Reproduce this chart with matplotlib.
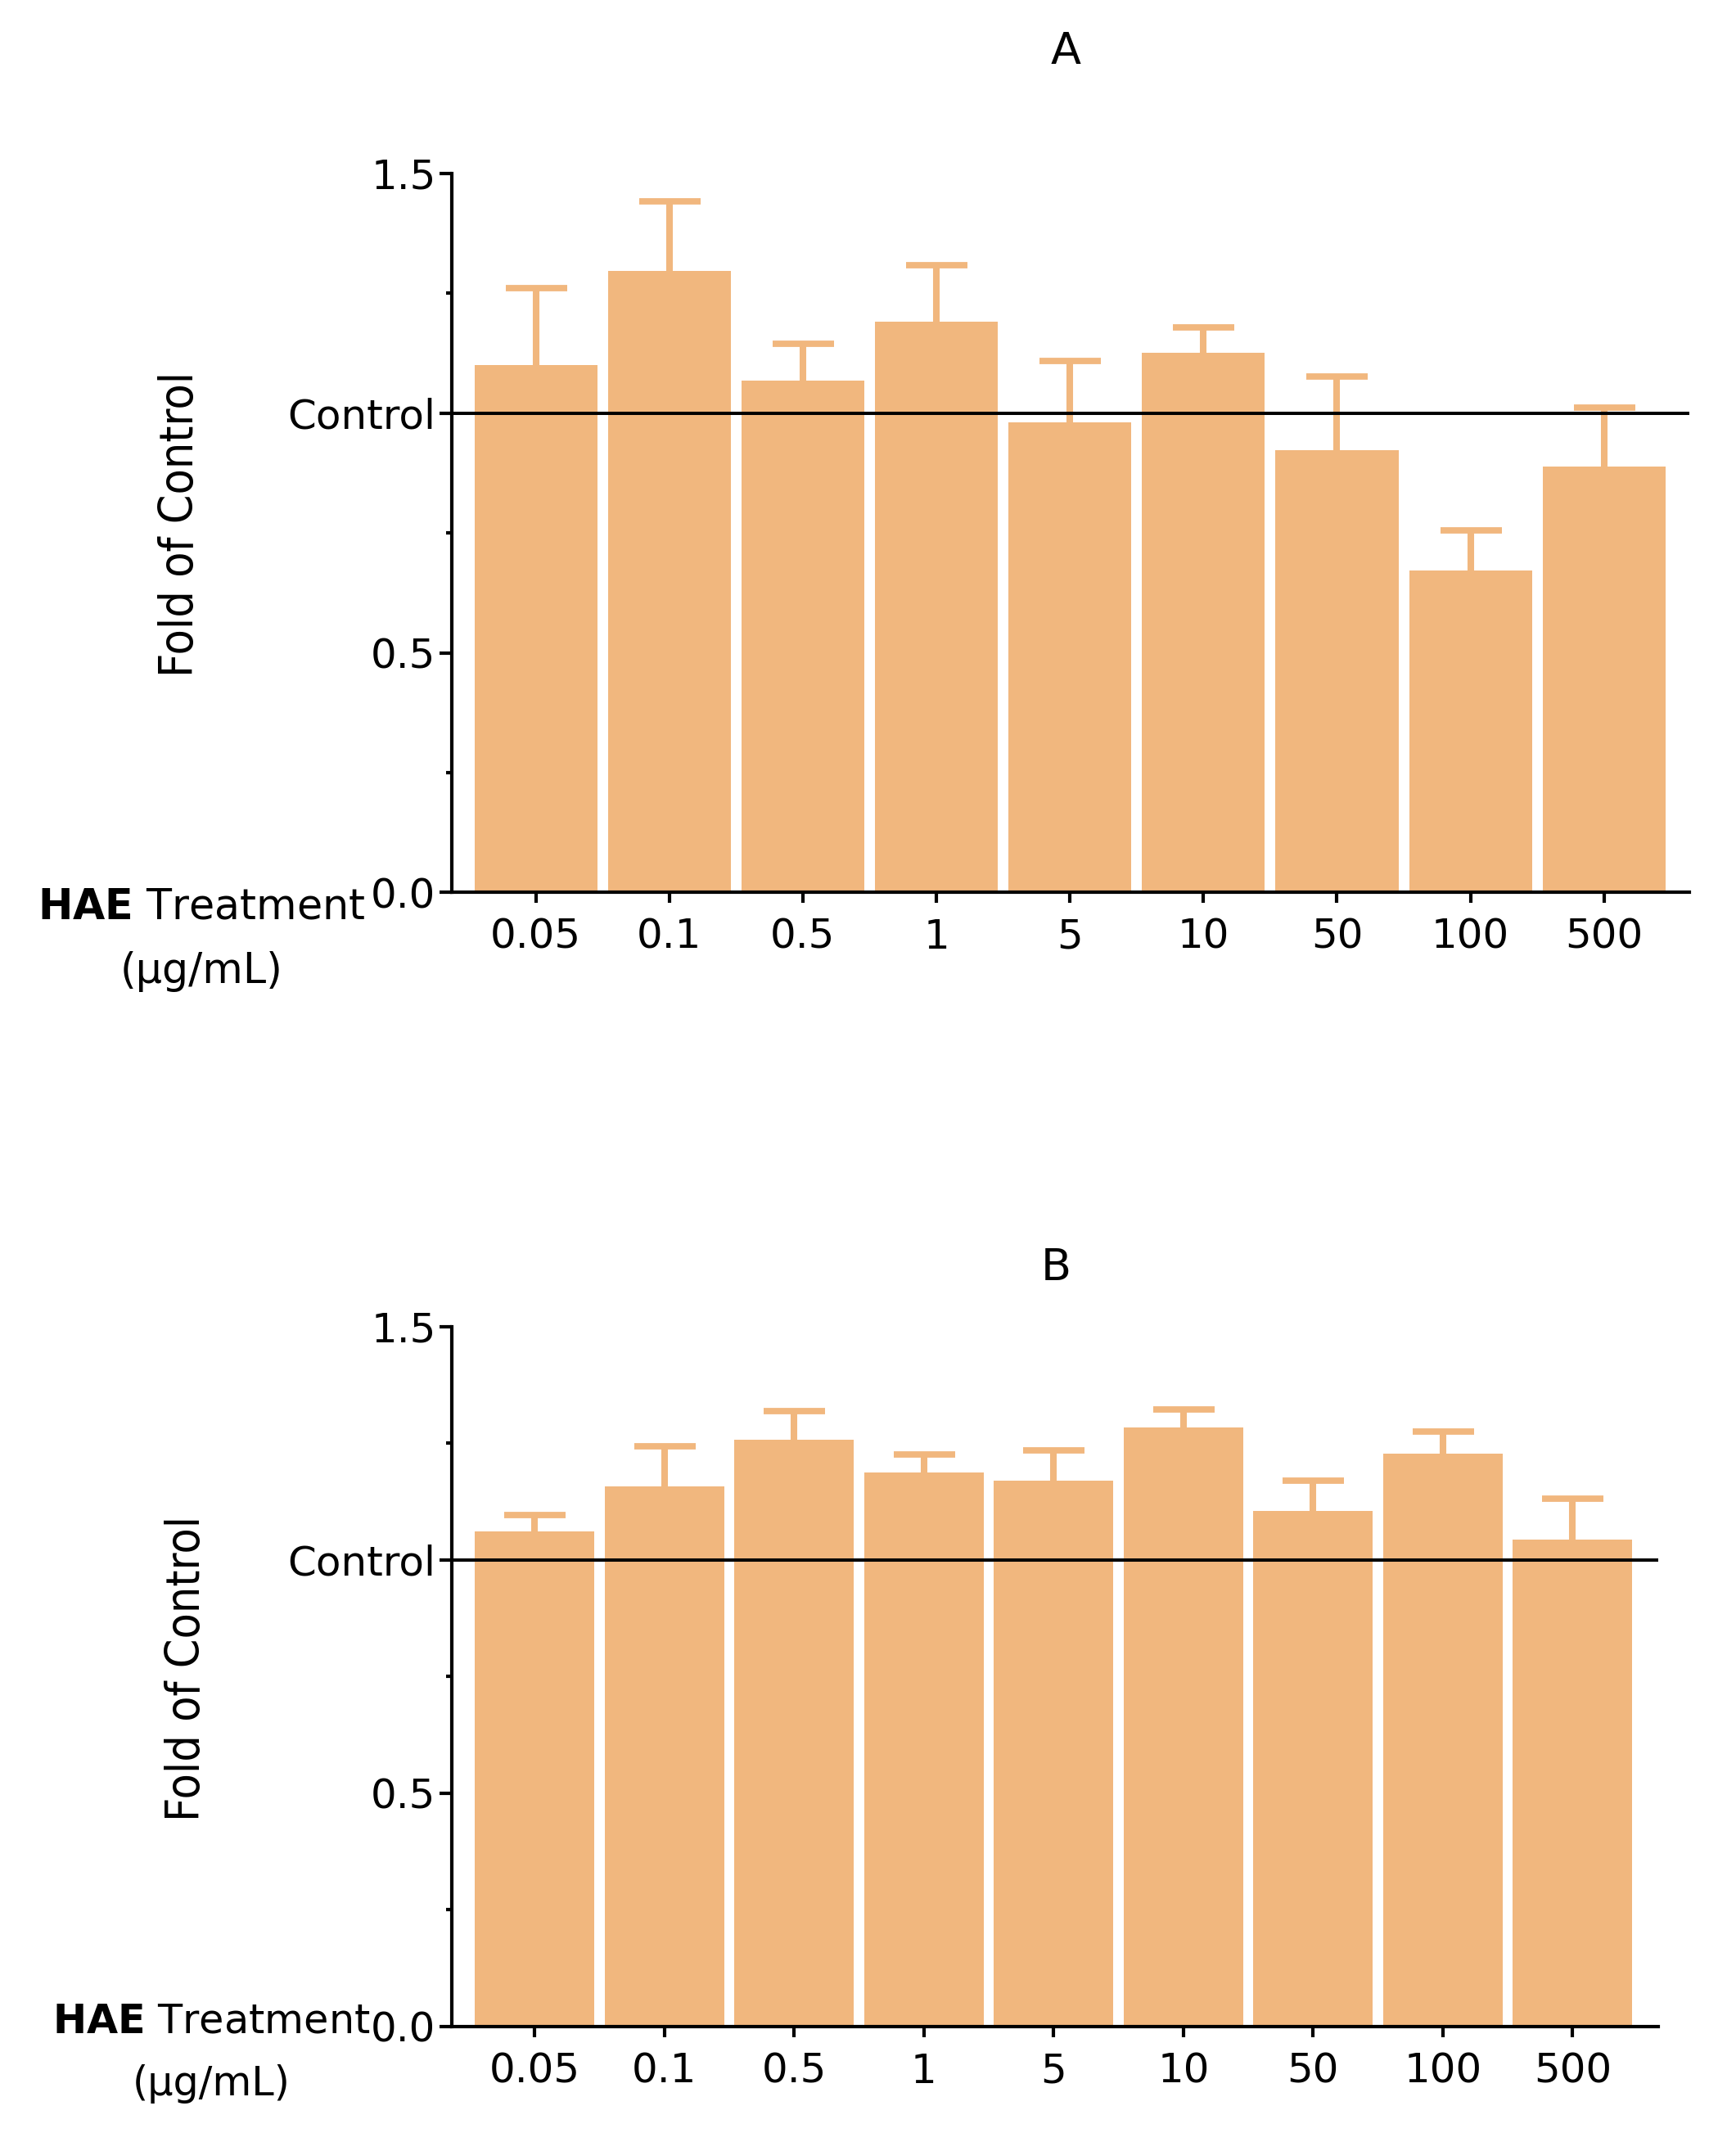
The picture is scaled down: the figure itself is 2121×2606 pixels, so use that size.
import matplotlib
matplotlib.use("Agg")
import matplotlib.pyplot as plt
from matplotlib import font_manager as fm
import numpy as np

# doses (ug/mL)
doses = ["0.05", "0.1", "0.5", "1", "5", "10", "50", "100", "500"]

# panel A - fold of control, upper SEM
vals_a = [1.10, 1.296, 1.068, 1.191, 0.980, 1.125, 0.923, 0.672, 0.889]
err_a = [0.160, 0.146, 0.077, 0.117, 0.128, 0.054, 0.154, 0.083, 0.122]

# panel B
vals_b = [1.061, 1.158, 1.257, 1.187, 1.170, 1.284, 1.105, 1.228, 1.044]
err_b = [0.035, 0.085, 0.062, 0.038, 0.064, 0.038, 0.065, 0.047, 0.088]

bar_color = "#F1B77E"
plt.rcParams['font.family'] = ['DejaVu Sans']

# the y label uses a narrow face; pick whatever narrow font is around
fonts = fm.fontManager.ttflist
if any(f.name == 'Liberation Sans Narrow' for f in fonts):
    ylab_font = dict(family='Liberation Sans Narrow', fontsize=52)
elif any(f.name == 'DejaVu Sans' and f.stretch == 'condensed' for f in fonts):
    ylab_font = dict(family='DejaVu Sans', fontstretch='condensed', fontsize=41)
else:
    ylab_font = dict(family=['Liberation Sans', 'DejaVu Sans'], fontsize=45)

fig = plt.figure(figsize=(21.21, 26.06), dpi=100)


def panel(rect, vals, errs, title, title_pos, xlim, label_x, label_y, label_size):
    ax = fig.add_axes(rect)
    x = np.arange(len(doses))
    ax.bar(x, vals, width=0.92, color=bar_color, zorder=2)
    _, caps, _ = ax.errorbar(x, vals, yerr=[np.zeros(len(vals)), errs], fmt='none',
                             ecolor=bar_color, elinewidth=5.8, capsize=27,
                             capthick=5.6, zorder=2)
    # only the upper cap is shown
    for c in caps:
        if np.allclose(c.get_ydata(), vals):
            c.set_visible(False)
    ax.axhline(1.0, color='black', lw=2.9, zorder=4)

    ax.set_xlim(*xlim)
    ax.set_ylim(0, 1.5)
    ax.set_xticks(x)
    ax.set_xticklabels(doses)
    ax.set_yticks([0, 0.5, 1.0, 1.5])
    ax.set_yticklabels(["0.0", "0.5", "Control", "1.5"])
    ax.set_yticks([0.25, 0.75, 1.25], minor=True)

    for s in ['top', 'right']:
        ax.spines[s].set_visible(False)
    for s in ['left', 'bottom']:
        ax.spines[s].set_linewidth(3)
    ax.tick_params(axis='y', which='major', length=11, width=3, pad=3, labelsize=36)
    ax.tick_params(axis='y', which='minor', length=5, width=3)
    ax.tick_params(axis='x', which='major', length=9, width=3, pad=13, labelsize=36)

    ax.set_ylabel("Fold of Control", **ylab_font)
    ax.yaxis.set_label_coords(-0.201, 0.512)

    ax.text(title_pos[0], title_pos[1], title, transform=ax.transAxes,
            ha='center', va='center', fontsize=39)
    ax.text(label_x, label_y[0], r"$\mathbf{HAE}$ Treatment", transform=ax.transAxes,
            ha='center', va='center', fontsize=label_size)
    ax.text(label_x, label_y[1], "(\u03bcg/mL)", transform=ax.transAxes,
            ha='center', va='center', fontsize=label_size)
    return ax


panel([0.2602, 0.5816, 0.7130, 0.3371], vals_a, err_a, "A", (0.496, 1.169),
      (-0.63, 8.64), -0.202, (-0.021, -0.110), 36.5)
panel([0.2602, 0.0499, 0.6950, 0.3282], vals_b, err_b, "B", (0.501, 1.084),
      (-0.64, 8.66), -0.199, (0.008, -0.082), 35.5)

fig.savefig("out.png", dpi=100)
